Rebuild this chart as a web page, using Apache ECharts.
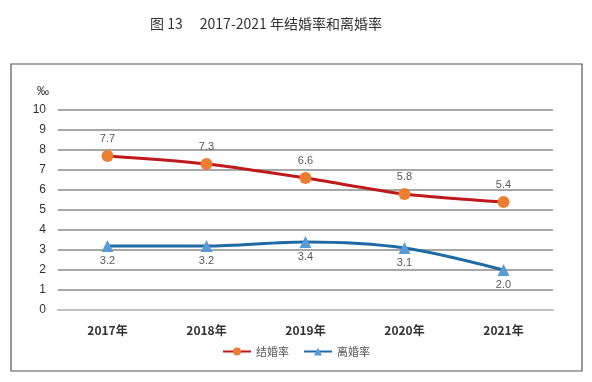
<!DOCTYPE html>
<html><head><meta charset="utf-8">
<script src="https://cdn.jsdelivr.net/npm/echarts@6/dist/echarts.min.js"></script>
<style>html,body{margin:0;padding:0;background:#fff}#c{width:592px;height:382px}</style>
</head><body><div id="c"></div>
<script>
const categories = ['2017年','2018年','2019年','2020年','2021年'];
const marriageRate = [7.7, 7.3, 6.6, 5.8, 5.4];
const divorceRate = [3.2, 3.2, 3.4, 3.1, 2.0];
const yTicks = {min: 0, max: 10, interval: 1};
const titleText = '图 13\u3000 2017-2021 年结婚率和离婚率';

const chart = echarts.init(document.getElementById('c'));
chart.setOption({
  backgroundColor: '#fff',
  animation: false,
  title: {text: titleText, left: 145, top: 12,
    textStyle: {fontFamily: '"Noto Sans CJK SC", serif', fontSize: 14, fontWeight: 'normal', color: '#333'}},
  graphic: [{type: 'rect', shape: {x: 11, y: 64, width: 571, height: 307},
    style: {fill: 'none', stroke: '#555', lineWidth: 1.2}, z: -1}],
  legend: {bottom: 20, left: 'center', itemGap: 14, itemWidth: 28, itemHeight: 10,
    textStyle: {fontFamily: '"Noto Sans CJK SC"', fontSize: 11, color: '#595959'},
    data: ['结婚率', '离婚率']},
  grid: {left: 58, right: 39, top: 110, bottom: 72},
  xAxis: {type: 'category', data: categories, boundaryGap: true,
    axisLine: {show: true, lineStyle: {color: '#c0c0c0', width: 2}},
    axisTick: {show: false},
    axisLabel: {margin: 14, fontFamily: '"Noto Sans CJK SC"', fontWeight: 'bold', fontSize: 12, color: '#333'}},
  yAxis: {type: 'value', min: yTicks.min, max: yTicks.max, interval: yTicks.interval,
    name: '‰', nameLocation: 'end', nameGap: 12, nameTextStyle: {fontSize: 12, color: '#333', align: 'right', padding: [0, 9, 0, 0]},
    axisLine: {show: false}, axisTick: {show: false},
    axisLabel: {margin: 12, fontFamily: 'Liberation Sans', fontSize: 12, color: '#333'},
    splitLine: {lineStyle: {color: '#8a8a8a', width: 1.5}}},
  series: [
    {name: '结婚率', type: 'line', data: marriageRate, smooth: 0.3,
     symbol: 'circle', symbolSize: 12,
     lineStyle: {color: '#c0191c', width: 3},
     itemStyle: {color: '#ed7d31'},
     label: {show: true, position: 'top', distance: 6, fontSize: 11, color: '#595959', fontFamily: 'Liberation Sans',
       formatter: p => p.value.toFixed(1)}},
    {name: '离婚率', type: 'line', data: divorceRate, smooth: 0.3,
     symbol: 'triangle', symbolSize: 12,
     lineStyle: {color: '#1f6aa5', width: 3},
     itemStyle: {color: '#5b9bd5'},
     label: {show: true, position: 'bottom', distance: 3, fontSize: 11, color: '#595959', fontFamily: 'Liberation Sans',
       formatter: p => p.value.toFixed(1)}}
  ]
});
</script></body></html>
